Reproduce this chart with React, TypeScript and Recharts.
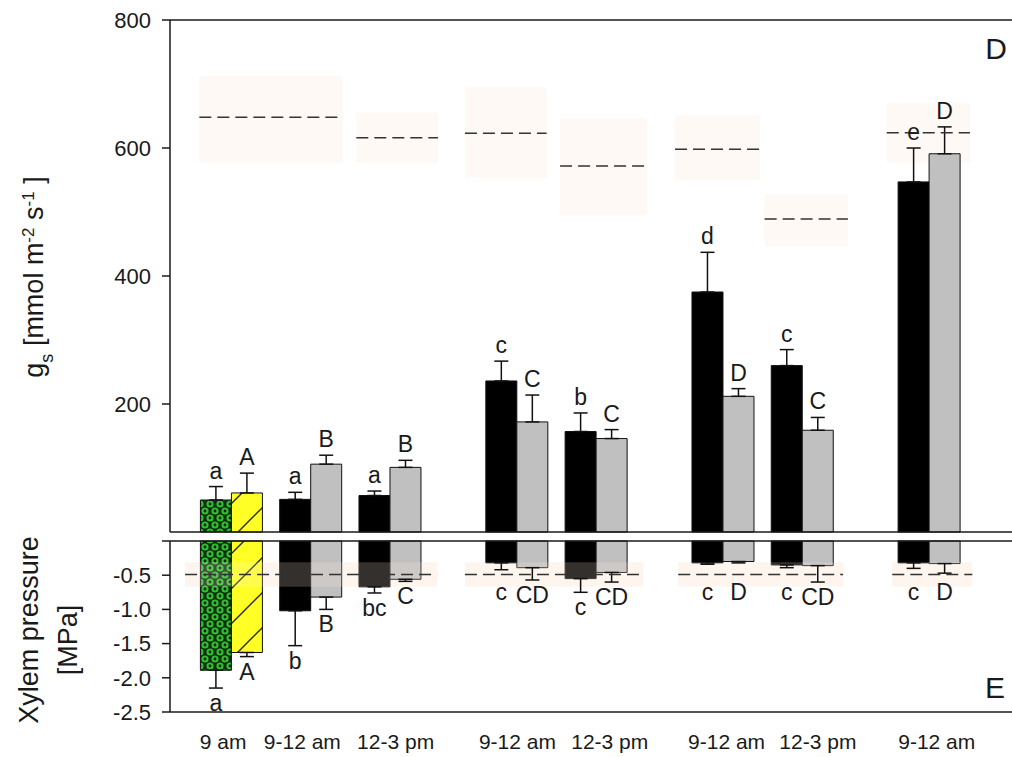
import React from 'react';
import {
    BarChart,
    Bar,
    XAxis,
    YAxis,
    ErrorBar,
    LabelList,
    ReferenceArea,
    ReferenceLine,
    Cell
} from 'recharts';

// x positions of the eight sampling groups and their tick labels
const groupPos = [1, 2, 3, 4.6, 5.6, 7.2, 8.2, 9.8];
const timeLabels = ['9 am', '9-12 am', '12-3 pm', '9-12 am', '12-3 pm', '9-12 am', '12-3 pm', '9-12 am'];

// panel D: stomatal conductance gs [mmol m-2 s-1]
const gsDark = [50, 51, 57, 236, 157, 375, 260, 547];
const gsDarkErr = [21, 11, 7, 31, 29, 62, 25, 53];
const gsLight = [61, 106, 101, 172, 146, 212, 159, 591];
const gsLightErr = [31, 14, 11, 42, 14, 12, 20, 42];
const gsDarkLetters = ['a', 'a', 'a', 'c', 'b', 'd', 'c', 'e'];
const gsLightLetters = ['A', 'B', 'B', 'C', 'C', 'D', 'C', 'D'];

// reference ranges (shaded) and reference means (dashed) for gs
const gsRefStart = [0.6, 2.58, 3.95, 5.15, 6.6, 7.73, 9.27];
const gsRefEnd = [2.41, 3.61, 4.98, 6.25, 7.67, 8.78, 10.32];
const gsRefLow = [577, 577, 553, 495, 550, 446, 577];
const gsRefHigh = [712, 655, 695, 647, 651, 527, 670];
const gsRefMean = [648, 616, 623, 572, 598, 489, 624];

// panel E: xylem pressure [MPa]
const psiDark = [-1.89, -1.02, -0.67, -0.32, -0.55, -0.32, -0.35, -0.32];
const psiDarkErr = [0.26, 0.51, 0.09, 0.1, 0.2, 0.02, 0.04, 0.08];
const psiLight = [-1.63, -0.82, -0.56, -0.39, -0.46, -0.3, -0.36, -0.33];
const psiLightErr = [0.06, 0.18, 0.03, 0.18, 0.14, 0.02, 0.24, 0.14];
const psiDarkLetters = ['a', 'b', 'bc', 'c', 'c', 'c', 'c', 'c'];
const psiLightLetters = ['A', 'B', 'C', 'CD', 'CD', 'D', 'CD', 'D'];
const psiLetterFloor = -0.86;

const psiRefStart = [0.42, 3.95, 6.64, 9.34];
const psiRefEnd = [3.6, 6.2, 8.72, 10.35];
const psiRefMean = -0.49;
const psiRefLow = -0.67;
const psiRefHigh = -0.31;

const gsTicks = [0, 200, 400, 600, 800];
const psiTicks = [-2.5, -2, -1.5, -1, -0.5, 0];
const xDomain = [0.23, 10.85];

const gsData = groupPos.map((pos, i) => ({
    pos,
    dark: gsDark[i],
    darkErr: [0, gsDarkErr[i]],
    light: gsLight[i],
    lightErr: [0, gsLightErr[i]]
}));

const psiData = groupPos.map((pos, i) => ({
    pos,
    dark: psiDark[i],
    darkErr: [psiDarkErr[i], 0],
    light: psiLight[i],
    lightErr: [psiLightErr[i], 0]
}));

const FONT = '"Liberation Sans", Arial, Helvetica, sans-serif';
const INK = '#1a1a1a';
const tickStyle = { fill: INK, fontSize: 22, fontFamily: FONT };

const W = 1012;
const LEFT = 110;
const BAR = 31;

// the time labels under the axis sit a little off the group centres in the original
const tickNudge = [-8, -8, 6, 1, 14, 4, 16, 8];

const TimeTick = (props: any) => {
    const { x, y, payload } = props;
    const i = groupPos.indexOf(payload.value);
    return (
        <text
            x={x + (tickNudge[i] ?? 0)}
            y={y}
            dy="0.71em"
            textAnchor="middle"
            fontSize={21}
            fontFamily={FONT}
            fill={INK}
        >
            {timeLabels[i] ?? ''}
        </text>
    );
};

// letters above (gs) or below (psi) the error bar cap
const letterContent = (letters: string[], vals: number[], errs: number[], below: boolean) => (props: any) => {
    const vb = props.viewBox ?? props;
    const index = props.index;
    if (index == null || vb == null || vb.x == null) return null;
    const { x, y, width, height } = vb;
    const perUnit = Math.abs(height) / Math.abs(vals[index]);
    const cx = x + width / 2;
    if (!below) {
        const end = Math.min(y, y + height);
        const cap = end - errs[index] * perUnit;
        return (
            <text x={cx} y={cap - 8} textAnchor="middle" fontSize={23} fontFamily={FONT} fill={INK}>
                {letters[index]}
            </text>
        );
    }
    const zero = Math.min(y, y + height);
    const end = Math.max(y, y + height);
    const cap = end + errs[index] * perUnit;
    const floor = zero - psiLetterFloor * perUnit;
    return (
        <text x={cx} y={Math.max(cap + 23, floor)} textAnchor="middle" fontSize={23} fontFamily={FONT} fill={INK}>
            {letters[index]}
        </text>
    );
};

const Patterns = () => (
    <defs>
        <pattern id="greenDots" width="10" height="14" patternUnits="userSpaceOnUse">
            <rect width="10" height="14" fill="#0b2e0b" />
            {[[0, 0], [10, 0], [0, 14], [10, 14], [5, 7]].map(([cx, cy], i) => (
                <g key={i}>
                    <circle cx={cx} cy={cy} r={3.6} fill="#2fbf2f" />
                    <circle cx={cx} cy={cy} r={1.4} fill="#061d06" />
                </g>
            ))}
        </pattern>
        <pattern id="yellowHatch" width="35" height="35" patternUnits="userSpaceOnUse">
            <rect width="35" height="35" fill="#ffff26" />
            <line x1="0" y1="35" x2="35" y2="0" stroke="#222" strokeWidth="1.3" />
            <line x1="-2" y1="2" x2="2" y2="-2" stroke="#222" strokeWidth="1.3" />
            <line x1="33" y1="37" x2="37" y2="33" stroke="#222" strokeWidth="1.3" />
        </pattern>
    </defs>
);

const darkFill = (i: number) => (i === 0 ? 'url(#greenDots)' : '#000000');
const lightFill = (i: number) => (i === 0 ? 'url(#yellowHatch)' : '#c0c0c0');

const axisLine = { stroke: INK, strokeWidth: 1.5 };

const GsPanel = () => (
    <BarChart
        width={W}
        height={540}
        data={gsData}
        margin={{ top: 20, right: 0, bottom: 8, left: LEFT }}
        barGap={0}
        barSize={BAR}
    >
        <Patterns />
        <XAxis dataKey="pos" type="number" domain={xDomain} ticks={groupPos} allowDataOverflow hide />
        <YAxis
            domain={[0, 800]}
            ticks={gsTicks}
            width={60}
            tick={tickStyle}
            tickSize={8}
            tickMargin={11}
            axisLine={axisLine}
            tickLine={axisLine}
        />
        {gsRefStart.map((s, i) => (
            <ReferenceArea
                key={`ga${i}`}
                x1={s}
                x2={gsRefEnd[i]}
                y1={gsRefLow[i]}
                y2={gsRefHigh[i]}
                fill="#fef9f4"
                fillOpacity={1}
                stroke="none"
            />
        ))}
        <Bar dataKey="dark" stroke="#111" strokeWidth={1} isAnimationActive={false}>
            {gsData.map((_, i) => (
                <Cell key={i} fill={darkFill(i)} />
            ))}
            <ErrorBar dataKey="darkErr" direction="y" width={7} stroke="#111" strokeWidth={1.5} />
            <LabelList dataKey="dark" content={letterContent(gsDarkLetters, gsDark, gsDarkErr, false)} />
        </Bar>
        <Bar dataKey="light" stroke="#111" strokeWidth={1} isAnimationActive={false}>
            {gsData.map((_, i) => (
                <Cell key={i} fill={lightFill(i)} />
            ))}
            <ErrorBar dataKey="lightErr" direction="y" width={7} stroke="#111" strokeWidth={1.5} />
            <LabelList dataKey="light" content={letterContent(gsLightLetters, gsLight, gsLightErr, false)} />
        </Bar>
        {gsRefStart.map((s, i) => (
            <ReferenceLine
                key={`gl${i}`}
                segment={[{ x: s, y: gsRefMean[i] }, { x: gsRefEnd[i], y: gsRefMean[i] }]}
                stroke="#333"
                strokeWidth={1.5}
                strokeDasharray="12 6"
            />
        ))}
        <ReferenceLine y={800} stroke={INK} strokeWidth={1.5} />
        <ReferenceLine y={0} stroke={INK} strokeWidth={1.5} />
    </BarChart>
);

const PsiPanel = () => (
    <BarChart
        width={W}
        height={217}
        data={psiData}
        margin={{ top: 1, right: 0, bottom: 0, left: LEFT }}
        barGap={0}
        barSize={BAR}
    >
        <Patterns />
        <XAxis
            dataKey="pos"
            type="number"
            domain={xDomain}
            ticks={groupPos}
            allowDataOverflow
            height={45}
            tick={<TimeTick />}
            tickLine={false}
            tickSize={0}
            tickMargin={22}
            axisLine={axisLine}
        />
        <YAxis
            domain={[-2.5, 0]}
            ticks={psiTicks}
            width={60}
            tick={tickStyle}
            tickSize={8}
            tickMargin={11}
            axisLine={axisLine}
            tickLine={axisLine}
            tickFormatter={(v: number) => (v === 0 ? '' : v.toFixed(1))}
        />
        {psiRefStart.map((s, i) => (
            <ReferenceArea
                key={`pa${i}`}
                x1={s}
                x2={psiRefEnd[i]}
                y1={psiRefLow}
                y2={psiRefHigh}
                fill="#fdf7f1"
                fillOpacity={1}
                stroke="none"
            />
        ))}
        <Bar dataKey="dark" stroke="#111" strokeWidth={1} isAnimationActive={false}>
            {psiData.map((_, i) => (
                <Cell key={i} fill={darkFill(i)} />
            ))}
            <ErrorBar dataKey="darkErr" direction="y" width={7} stroke="#111" strokeWidth={1.5} />
            <LabelList dataKey="dark" content={letterContent(psiDarkLetters, psiDark, psiDarkErr, true)} />
        </Bar>
        <Bar dataKey="light" stroke="#111" strokeWidth={1} isAnimationActive={false}>
            {psiData.map((_, i) => (
                <Cell key={i} fill={lightFill(i)} />
            ))}
            <ErrorBar dataKey="lightErr" direction="y" width={7} stroke="#111" strokeWidth={1.5} />
            <LabelList dataKey="light" content={letterContent(psiLightLetters, psiLight, psiLightErr, true)} />
        </Bar>
        {psiRefStart.map((s, i) => (
            <ReferenceArea
                key={`po${i}`}
                x1={s}
                x2={psiRefEnd[i]}
                y1={psiRefLow}
                y2={psiRefHigh}
                fill="#fff2e4"
                fillOpacity={0.2}
                stroke="none"
                zIndex={350}
            />
        ))}
        {psiRefStart.map((s, i) => (
            <ReferenceLine
                key={`pl${i}`}
                segment={[{ x: s, y: psiRefMean }, { x: psiRefEnd[i], y: psiRefMean }]}
                stroke="#333"
                strokeWidth={1.5}
                strokeDasharray="12 6"
            />
        ))}
        <ReferenceLine y={0} stroke={INK} strokeWidth={1.5} />
    </BarChart>
);

const Titles = () => (
    <svg
        width={W}
        height={757}
        style={{ position: 'absolute', left: 0, top: 0, pointerEvents: 'none' }}
        fontFamily={FONT}
        fill={INK}
    >
        <text transform="rotate(-90)" x={-277} y={43} textAnchor="middle" fontSize={27}>
            g<tspan baselineShift="sub" fontSize={18}>s</tspan>
            <tspan> [mmol m</tspan>
            <tspan baselineShift="super" fontSize={17}>-2</tspan>
            <tspan> s</tspan>
            <tspan baselineShift="super" fontSize={17}>-1</tspan>
            <tspan> ]</tspan>
        </text>
        <text transform="rotate(-90)" x={-630} y={38} textAnchor="middle" fontSize={27}>
            Xylem pressure
        </text>
        <text transform="rotate(-90)" x={-640} y={77} textAnchor="middle" fontSize={27}>
            [MPa]
        </text>
        <text x={996} y={59} textAnchor="middle" fontSize={30}>D</text>
        <text x={995} y={698} textAnchor="middle" fontSize={30}>E</text>
    </svg>
);

export default function App() {
    return (
        <div style={{ position: 'absolute', left: 0, top: 0, width: W, height: 757, background: '#fff', overflow: 'hidden' }}>
            <div style={{ position: 'absolute', left: 0, top: 0 }}>
                <GsPanel />
            </div>
            <div style={{ position: 'absolute', left: 0, top: 540 }}>
                <PsiPanel />
            </div>
            <Titles />
        </div>
    );
}
